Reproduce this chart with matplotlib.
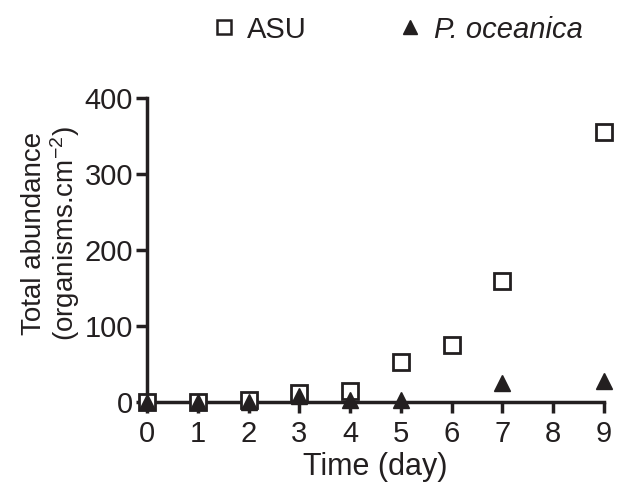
import matplotlib
matplotlib.use("Agg")
import matplotlib.pyplot as plt

plt.rcParams['font.family'] = ['Liberation Sans', 'DejaVu Sans']
plt.rcParams['mathtext.fontset'] = 'custom'
plt.rcParams['mathtext.rm'] = 'Liberation Sans'
plt.rcParams['mathtext.it'] = 'Liberation Sans:italic'

# ==========================================
# DATA
# ==========================================
days = [0, 1, 2, 3, 4, 5, 6, 7, 9]
asu = [0, 0, 3, 12, 14, 53, 75, 159, 355]
days_po = [0, 1, 2, 3, 4, 5, 7, 9]
posidonia = [0, 0, 0, 8, 2, 3, 25, 27]
x_ticks = [0, 1, 2, 3, 4, 5, 6, 7, 8, 9]
y_ticks = [0, 100, 200, 300, 400]

INK = '#231f20'

fig = plt.figure(figsize=(6.18, 4.84), dpi=100)
ax = fig.add_axes([0.238, 0.1694, 0.739, 0.628])

ax.plot(days, asu, linestyle='none', marker='s', markersize=12,
        markerfacecolor='white', markeredgecolor=INK, markeredgewidth=2,
        clip_on=False, zorder=3, label='ASU')
ax.plot(days_po, posidonia, linestyle='none', marker='^', markersize=12,
        color=INK, clip_on=False, zorder=4, label='P. oceanica')

ax.set_xlim(0, 9)
ax.set_ylim(0, 400)
ax.set_xticks(x_ticks)
ax.set_yticks(y_ticks)

for side in ['top', 'right']:
    ax.spines[side].set_visible(False)
for side in ['left', 'bottom']:
    ax.spines[side].set_linewidth(2.5)
    ax.spines[side].set_color(INK)

ax.tick_params(axis='both', direction='out', length=8, width=2.5,
               color=INK, labelsize=21, labelcolor=INK)
ax.tick_params(axis='x', pad=5)
ax.tick_params(axis='y', pad=2)

ax.set_xlabel('Time (day)', fontsize=22, color=INK, labelpad=3)
ax.set_ylabel('Total abundance\n(organisms.cm$^{-2}$)', fontsize=20,
              color=INK, linespacing=1.05)
ax.yaxis.set_label_coords(-0.143, 0.553)

leg = fig.legend(loc='center', bbox_to_anchor=(0.643, 0.939), ncol=2,
                 frameon=False, fontsize=21, columnspacing=3.15,
                 handletextpad=0.4, handlelength=0.8)
for txt in leg.get_texts():
    txt.set_color(INK)
leg.get_texts()[1].set_style('italic')
handles = leg.legend_handles
handles[0].set_markersize(9.5)
handles[0].set_markeredgewidth(1.8)
handles[1].set_markersize(10)

fig.savefig('out.png', dpi=100)
